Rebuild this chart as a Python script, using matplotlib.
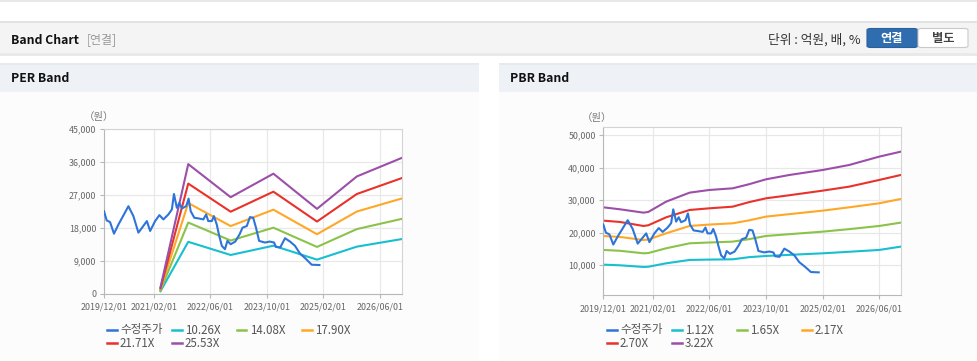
import matplotlib
matplotlib.use('Agg')
import matplotlib.pyplot as plt
import matplotlib.dates as mdates
import matplotlib.ticker as mticker
from matplotlib.patches import Rectangle, FancyBboxPatch
from matplotlib.lines import Line2D
import pandas as pd

plt.rcParams['font.family'] = ['Noto Sans CJK KR', 'DejaVu Sans']

# ---------------- data ----------------
price_dates = ['2019-12-01', '2019-12-24', '2020-01-22', '2020-02-25', '2020-04-04', '2020-05-16',
               '2020-06-28', '2020-08-10', '2020-09-22', '2020-10-28', '2020-12-04', '2021-01-01',
               '2021-02-13', '2021-03-22', '2021-04-25', '2021-06-07', '2021-07-07', '2021-07-25',
               '2021-08-19', '2021-09-10', '2021-10-01', '2021-11-07', '2021-11-28', '2021-12-16',
               '2022-01-16', '2022-02-22', '2022-04-04', '2022-04-28', '2022-05-16', '2022-06-16',
               '2022-07-04', '2022-07-28', '2022-08-19', '2022-09-10', '2022-10-07', '2022-10-28',
               '2022-11-25', '2023-01-04', '2023-02-10', '2023-03-07', '2023-04-13', '2023-05-10',
               '2023-06-07', '2023-07-01', '2023-07-28', '2023-09-16', '2023-10-28', '2023-12-04',
               '2023-12-19', '2024-01-25', '2024-03-07', '2024-04-19', '2024-06-01', '2024-07-13',
               '2024-09-04', '2024-10-22', '2024-12-28']
price_values = [22500, 19980, 19530, 16380, 18900, 21330,
                23850, 21150, 16650, 18180, 19800, 17100,
                19800, 21420, 20250, 21600, 22950, 27180,
                23400, 24750, 23220, 23850, 25920, 22500,
                20700, 20520, 20250, 21600, 19800, 19800,
                21150, 18900, 15750, 13050, 12150, 14400,
                13500, 14220, 16200, 18000, 18450, 20880,
                20700, 18000, 14400, 13950, 14220, 13950,
                12780, 12600, 15120, 14220, 13050, 10980,
                9450, 7920, 7830]

per_dates = ['2021-03-31', '2021-11-25', '2022-11-25', '2023-11-28', '2024-12-07', '2025-11-15', '2026-12-07']
per_1026 = [700, 14150, 10570, 13100, 9300, 12840, 14900]
per_1408 = [960, 19400, 14500, 18000, 12760, 17620, 20400]
per_1790 = [1220, 24700, 18440, 22900, 16220, 22400, 25950]
per_2171 = [1480, 30000, 22350, 27800, 19670, 27170, 31500]
per_2553 = [1740, 35300, 26300, 32700, 23130, 31950, 37000]
per_labels = ['수정주가', '10.26X', '14.08X', '17.90X', '21.71X', '25.53X']

pbr_dates = ['2019-12-01', '2020-04-22', '2020-11-10', '2020-12-22', '2021-05-25', '2021-12-13',
             '2022-06-01', '2022-12-19', '2023-05-10', '2023-10-01', '2024-04-19', '2025-02-01',
             '2025-09-16', '2026-06-01', '2026-12-04']
pbr_112 = [10200, 10000, 9490, 9550, 10610, 11640, 11750, 11840, 12500, 12860, 13200, 13680, 14150, 14710, 15730]
pbr_165 = [14710, 14450, 13680, 13750, 15220, 16750, 17000, 17260, 18030, 19000, 19550, 20330, 21100, 22070, 23090]
pbr_217 = [19000, 18700, 17770, 17900, 19820, 22070, 22500, 22890, 23800, 24940, 25700, 26780, 27800, 29030, 30360]
pbr_270 = [23710, 23300, 22070, 22280, 24730, 26980, 27490, 28000, 29400, 30560, 31500, 32920, 34140, 36190, 37720]
pbr_322 = [27800, 27190, 26160, 26370, 29540, 32300, 33120, 33630, 34900, 36390, 37720, 39260, 40790, 43350, 44880]
pbr_labels = ['수정주가', '1.12X', '1.65X', '2.17X', '2.70X', '3.22X']

x_ticks = ['2019-12-01', '2021-02-01', '2022-06-01', '2023-10-01', '2025-02-01', '2026-06-01']
per_yticks = [0, 9000, 18000, 27000, 36000, 45000]
pbr_yticks = [10000, 20000, 30000, 40000, 50000]

colors = ['#2f74d8', '#17bfd0', '#8bc34a', '#ffa726', '#e8322b', '#9b4fa8']

# ---------------- figure ----------------
W, H = 977, 361
fig = plt.figure(figsize=(W / 100, H / 100), dpi=100)
fig.patch.set_facecolor('white')


def fx(x):
    return x / W


def fy(y):
    return 1 - y / H


def rect(x0, y0, x1, y1, fc, ec='none', lw=0, z=-5):
    fig.patches.append(Rectangle((fx(x0), fy(y1)), fx(x1) - fx(x0), fy(y0) - fy(y1),
                                 transform=fig.transFigure, facecolor=fc, edgecolor=ec,
                                 linewidth=lw, zorder=z))


# top thin line
rect(0, 0, W, 2, '#e8e8e8')
# header bar with shadow
rect(0, 53, W, 56, '#e9e9e9')
rect(0, 21, W, 23, '#e2e2e2')
rect(0, 23, W, 53, '#f4f4f4')
fig.text(fx(11), fy(40), 'Band Chart', fontsize=8.8, fontweight='bold', color='#111111',
         va='center', ha='left')
fig.text(fx(87), fy(40), '[연결]', fontsize=8.6, color='#9a9a9a', va='center', ha='left')
fig.text(fx(861), fy(40), '단위 : 억원, 배, %', fontsize=9.2, color='#333333', va='center', ha='right')
# buttons
fig.patches.append(FancyBboxPatch((fx(867), fy(47.5)), fx(917.5) - fx(867), fy(28.5) - fy(47.5),
                                  boxstyle='round,pad=0,rounding_size=0.004',
                                  transform=fig.transFigure, facecolor='#2f6db0',
                                  edgecolor='#2a5f9c', linewidth=0.8, zorder=2))
fig.text(fx(892), fy(38.5), '연결', fontsize=8.8, fontweight='bold', color='white',
         va='center', ha='center', zorder=3)
fig.patches.append(FancyBboxPatch((fx(918), fy(47.5)), fx(968) - fx(918), fy(28.5) - fy(47.5),
                                  boxstyle='round,pad=0,rounding_size=0.004',
                                  transform=fig.transFigure, facecolor='white',
                                  edgecolor='#c9c9c9', linewidth=0.8, zorder=2))
fig.text(fx(943), fy(38.5), '별도', fontsize=8.8, fontweight='bold', color='#444444',
         va='center', ha='center', zorder=3)

# panel headers and bodies
for (x0, x1, title) in [(0, 479, 'PER Band'), (499, W, 'PBR Band')]:
    rect(x0, 92, x1, H, '#fdfcfc')
    rect(x0, 63, x1, 65, '#e6e9ee')
    rect(x0, 65, x1, 92, '#eef2f7')
    fig.text(fx(x0 + 11), fy(79), title, fontsize=8.8, fontweight='bold', color='#111111',
             va='center', ha='left')

start = pd.Timestamp('2019-12-01')
end = pd.Timestamp('2026-12-06')


def style_axes(ax, yticks, ylim):
    ax.set_facecolor('white')
    ax.set_xlim(start, end)
    ax.set_ylim(*ylim)
    ax.set_xticks(pd.to_datetime(x_ticks))
    ax.xaxis.set_major_formatter(mdates.DateFormatter('%Y/%m/%d'))
    ax.set_yticks(yticks)
    ax.yaxis.set_major_formatter(mticker.FuncFormatter(lambda v, p: f'{v:,.0f}'))
    ax.grid(True, color='#e8e8e8', linewidth=0.9)
    ax.set_axisbelow(True)
    for s in ['left', 'bottom']:
        ax.spines[s].set_color('#b8b8b8')
    for s in ['top', 'right']:
        ax.spines[s].set_color('#d4d4d4')
    ax.tick_params(axis='both', direction='out', length=3, color='#b8b8b8',
                   labelcolor='#666666', labelsize=6.4, pad=2.5)
    ax.tick_params(axis='x', pad=3.5)


def legend(x0, labels):
    for i, lab in enumerate(labels):
        cx = x0 + (i % 4) * 65
        cy = 330 + (i // 4) * 13.3
        fig.lines.append(Line2D([fx(cx), fx(cx + 9.5)], [fy(cy), fy(cy)], transform=fig.transFigure,
                                color=colors[i], linewidth=1.8))
        fig.text(fx(cx + 13), fy(cy), lab, fontsize=8.3, color='#555555', va='center', ha='left')


# PER axes
ax1 = fig.add_axes([fx(104), fy(293.8), fx(401.7) - fx(104), fy(128.5) - fy(293.8)])
pd_price = pd.to_datetime(price_dates)
pd_per = pd.to_datetime(per_dates)
ax1.plot(pd_price, price_values, color=colors[0], lw=1.5, zorder=3)
for vals, c in zip([per_1026, per_1408, per_1790, per_2171, per_2553], colors[1:]):
    ax1.plot(pd_per, vals, color=c, lw=1.5, zorder=2)
style_axes(ax1, per_yticks, (0, 45000))
fig.text(fx(99), fy(117), '（원）', fontsize=7.5, color='#777777', va='center', ha='center')
legend(107, per_labels)

# PBR axes
ax2 = fig.add_axes([fx(603.3), fy(295), fx(901) - fx(603.3), fy(127) - fy(295)])
pd_pbr = pd.to_datetime(pbr_dates)
ax2.plot(pd_price, price_values, color=colors[0], lw=1.5, zorder=3)
for vals, c in zip([pbr_112, pbr_165, pbr_217, pbr_270, pbr_322], colors[1:]):
    ax2.plot(pd_pbr, vals, color=c, lw=1.5, zorder=2)
style_axes(ax2, pbr_yticks, (880, 52450))
fig.text(fx(597), fy(118), '（원）', fontsize=7.5, color='#777777', va='center', ha='center')
legend(607, pbr_labels)

fig.savefig('out.png', dpi=100, facecolor=fig.get_facecolor())
